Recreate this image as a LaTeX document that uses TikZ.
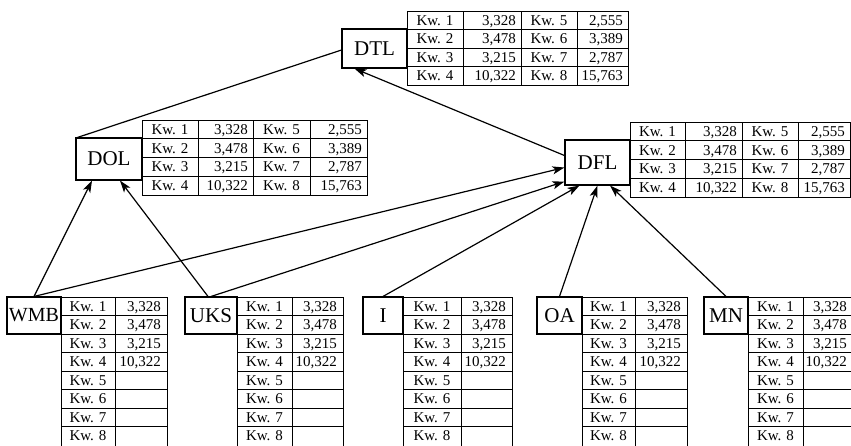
\documentclass[tikz,border=0pt]{standalone}
\usepackage{fontspec}
\setmainfont{Liberation Serif}
\usetikzlibrary{arrows.meta,calc}
\tikzset{
  grid/.style={line width=0.9pt},
  lbl/.style={draw,line width=1.1pt,inner sep=0pt,font=\fontsize{21}{21}\selectfont},
  cell/.style={inner sep=0pt,text height=10.2pt,text depth=0pt,font=\fontsize{15}{15}\selectfont},
  arr/.style={line width=1.2pt,-{Stealth[length=12pt,width=8pt,inset=3pt]}},
  ln/.style={line width=1.2pt}
}
\newcommand\quadtab[8]{%
  \draw[grid] (#2,#7) rectangle (#6,{#7+4*#8});
  \foreach \xx in {#3,#4,#5} \draw[grid] (\xx,#7) -- (\xx,{#7+4*#8});
  \foreach \ii in {1,2,3} \draw[grid] (#2,{#7+\ii*#8}) -- (#6,{#7+\ii*#8});
  \foreach \ii/\va/\vb [evaluate=\ii as \jj using int(\ii+4)] in {1/{3,328}/{2,555},2/{3,478}/{3,389},3/{3,215}/{2,787},4/{10,322}/{15,763}}{
    \node[cell] (#1-k\ii) at ({(#2+#3)/2},{#7+(\ii-0.5)*#8}) {Kw. \ii};
    \node[cell,anchor=east] (#1-v\ii) at ({#4-5},{#7+(\ii-0.5)*#8}) {\va};
    \node[cell] (#1-k\jj) at ({(#4+#5)/2},{#7+(\ii-0.5)*#8}) {Kw. \jj};
    \node[cell,anchor=east] (#1-v\jj) at ({#6-5},{#7+(\ii-0.5)*#8}) {\vb};
  }%
}
\newcommand\duotab[6]{%
  \foreach \xx in {#2,#3,#4} \draw[grid] (\xx,#5) -- (\xx,450);
  \foreach \ii in {0,...,7} \draw[grid] (#2,{#5+\ii*#6}) -- (#4,{#5+\ii*#6});
  \foreach \ii/\va in {1/{3,328},2/{3,478},3/{3,215},4/{10,322}}
    \node[cell,anchor=east] (#1-v\ii) at ({#4-6},{#5+(\ii-0.5)*#6}) {\va};
  \foreach \ii in {1,...,8}
    \node[cell] (#1-k\ii) at ({(#2+#3)/2},{#5+(\ii-0.5)*#6}) {Kw. \ii};
}
\begin{document}
\begin{tikzpicture}[x=1pt,y=-1pt]
\useasboundingbox (0,0) rectangle (851,445);
% tables
\quadtab{tDTL}{407}{463}{521}{577}{628}{11}{18.5}
\quadtab{tDOL}{142}{198}{253}{310}{367}{120}{18.75}
\quadtab{tDFL}{630}{685}{742}{798}{850}{122}{18.75}
\duotab{tWMB}{61}{115}{167}{297}{18.5}
\duotab{tUKS}{237}{292}{343}{297}{18.5}
\duotab{tI}{403}{461}{512}{297}{18.5}
\duotab{tOA}{582}{635}{687}{297}{18.5}
\duotab{tMN}{748}{803}{853}{297}{18.5}
% label boxes
\node[lbl,minimum width=65pt,minimum height=39pt] (DTL) at (374.5,48.5) {DTL};
\node[lbl,minimum width=66pt,minimum height=42pt] (DOL) at (109,159) {DOL};
\node[lbl,minimum width=65pt,minimum height=45pt] (DFL) at (597.5,162.5) {DFL};
\node[lbl,minimum width=54pt,minimum height=37pt,font=\fontsize{20}{20}\selectfont] (WMB) at (34,315.5) {WMB};
\node[lbl,minimum width=52pt,minimum height=37pt] (UKS) at (211,315.5) {UKS};
\node[lbl,minimum width=40pt,minimum height=37pt] (I) at (383,315.5) {I};
\node[lbl,minimum width=45pt,minimum height=37pt] (OA) at (559.5,315.5) {OA};
\node[lbl,minimum width=44pt,minimum height=37pt] (MN) at (726,315.5) {MN};
% connectors
\draw[ln] ($(DOL.north west)+(2,0)$) -- ($(DTL.west)+(0,1.5)$);
\draw[arr] ($(DFL.west)+(0,-7)$) -- ($(DTL.south west)+(13,0)$);
\draw[arr] (WMB.north) -- ($(DOL.south)+(-17,0)$);
\draw[arr] ($(UKS.north)+(-3,0)$) -- ($(DOL.south)+(11,0)$);
\draw[arr] (WMB.north) -- ($(DFL.west)+(0,5)$);
\draw[arr] (UKS.north) -- ($(DFL.south west)+(0,-4)$);
\draw[arr] (I.north) -- ($(DFL.south west)+(15,0)$);
\draw[arr] (OA.north) -- (DFL.south);
\draw[arr] (MN.north) -- ($(DFL.south)+(12.5,0)$);
\end{tikzpicture}
\end{document}
